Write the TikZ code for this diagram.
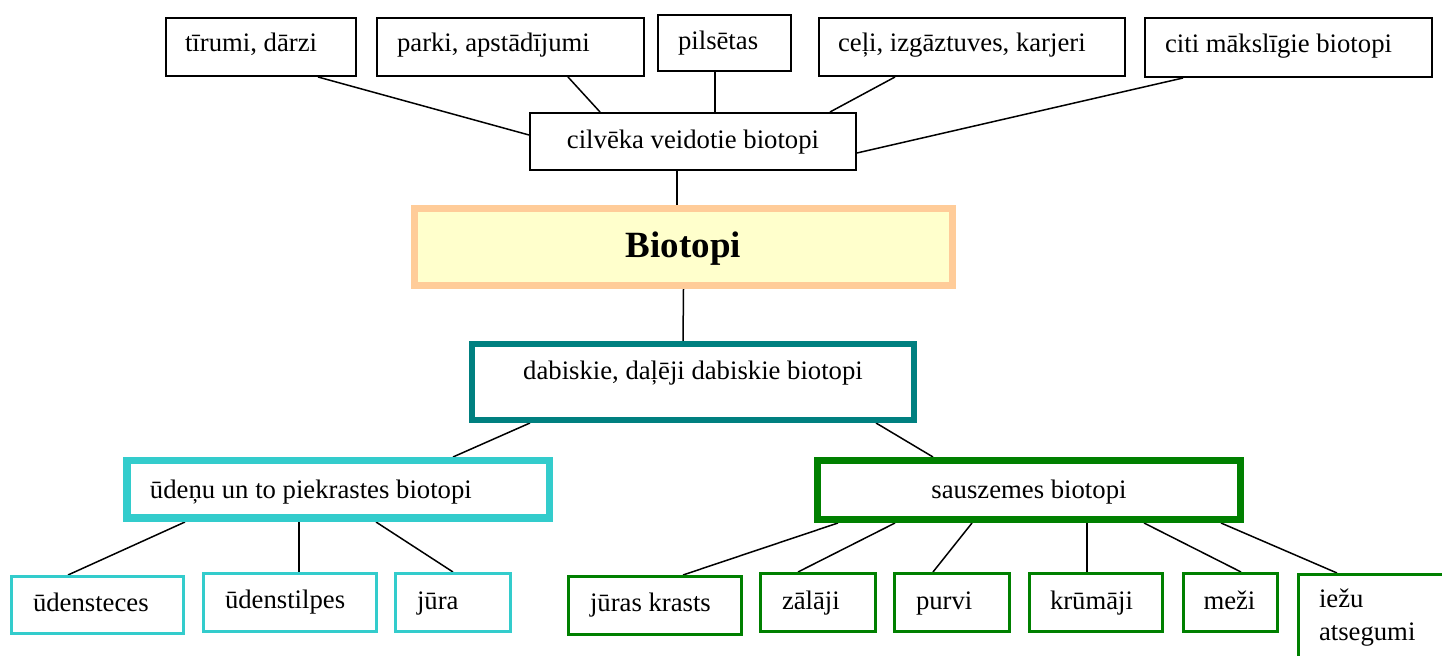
\documentclass[tikz,border=0pt]{standalone}
\usepackage{fontspec}
\setmainfont{Liberation Serif}
\usetikzlibrary{backgrounds}
\definecolor{peach}{HTML}{FFCC99}
\definecolor{lightyel}{HTML}{FFFFCC}
\definecolor{tealc}{HTML}{008080}
\definecolor{cyanc}{HTML}{33CCCC}
\definecolor{greenc}{HTML}{008000}
\newcommand{\lefttext}[2]{\makebox[#1][l]{#2}}
\tikzset{
  box/.style={draw, rectangle, inner sep=0pt, text depth=0pt, font=\fontsize{13.35pt}{16.5pt}\selectfont},
  thin/.style={box, line width=0.85pt},
  kid/.style={box, line width=1.7pt},
  padx/.style={inner xsep=#1},
  conn/.style={line width=0.75pt, black}
}
\begin{document}
\begin{tikzpicture}[x=0.5pt,y=-0.5pt]
\useasboundingbox (0,0) rectangle (1442,656);

% top row
\node[thin, minimum width=95.15pt, minimum height=29.15pt, padx=9.6pt, text height=5pt] (tir) at (261,47) {\lefttext{75.95pt}{tīrumi, dārzi}};
\node[thin, minimum width=133.65pt, minimum height=29.15pt, padx=10.1pt, text height=5pt] (par) at (510.5,47) {\lefttext{113.45pt}{parki, apstādījumi}};
\node[thin, minimum width=66.65pt, minimum height=28.15pt, padx=10.1pt, text height=7pt] (pil) at (724.5,43) {\lefttext{46.45pt}{pilsētas}};
\node[thin, minimum width=153.15pt, minimum height=29.15pt, padx=9.6pt, text height=5pt] (cel) at (972,47) {\lefttext{133.95pt}{ceļi, izgāztuves, karjeri}};
\node[thin, minimum width=143.65pt, minimum height=29.65pt, padx=10.1pt, text height=4.8pt] (cit) at (1288.5,47.5) {\lefttext{123.45pt}{citi mākslīgie biotopi}};

\node[thin, minimum width=163.15pt, minimum height=28.65pt, text height=6.8pt] (cil) at (693,141.5) {cilvēka veidotie biotopi};

% centre
\node[box, draw=peach, fill=lightyel, line width=3.5pt, minimum width=269pt, minimum height=38.5pt, text height=11pt, font=\bfseries\fontsize{18.5pt}{22pt}\selectfont] (bio) at (683.5,247) {Biotopi};

\node[box, draw=tealc, line width=3pt, minimum width=221pt, minimum height=38pt, text height=0pt, text depth=2pt] (dab) at (693,382) {dabiskie, daļēji dabiskie biotopi};

% second level
\node[box, draw=cyanc, line width=3.75pt, minimum width=211.25pt, minimum height=28.75pt, padx=11.6pt, text height=9.5pt] (ude) at (338,489.5) {\lefttext{188.05pt}{ūdeņu un to piekrastes biotopi}};
\node[box, draw=greenc, line width=3.5pt, minimum width=211.5pt, minimum height=29.5pt, text height=9pt] (sau) at (1029,490) {sauszemes biotopi};

% water children
\node[kid, draw=cyanc, minimum width=85.8pt, minimum height=28.3pt, padx=10.65pt, text height=7pt] (ust) at (97.5,605) {\lefttext{64.5pt}{ūdensteces}};
\node[kid, draw=cyanc, minimum width=86.3pt, minimum height=28.8pt, padx=10.65pt, text height=6.5pt] (usp) at (290,602.5) {\lefttext{65pt}{ūdenstilpes}};
\node[kid, draw=cyanc, minimum width=57.3pt, minimum height=28.8pt, padx=10.65pt, text height=7.5pt] (jur) at (453,602.5) {\lefttext{36pt}{jūra}};

% land children
\node[kid, draw=greenc, minimum width=86.3pt, minimum height=28.8pt, padx=10.65pt, text height=6.5pt] (jkr) at (655,605.5) {\lefttext{65pt}{jūras krasts}};
\node[kid, draw=greenc, minimum width=57.3pt, minimum height=28.8pt, padx=10.65pt, text height=7.5pt] (zal) at (818,602.5) {\lefttext{36pt}{zālāji}};
\node[kid, draw=greenc, minimum width=57.3pt, minimum height=28.8pt, padx=10.65pt, text height=7.5pt] (pur) at (952,602.5) {\lefttext{36pt}{purvi}};
\node[kid, draw=greenc, minimum width=66.3pt, minimum height=28.8pt, padx=10.15pt, text height=7.5pt] (kru) at (1096,602.5) {\lefttext{46pt}{krūmāji}};
\node[kid, draw=greenc, minimum width=46.8pt, minimum height=28.8pt, padx=9.9pt, text height=7.5pt] (mez) at (1230.5,602.5) {\lefttext{27pt}{meži}};
\node[kid, draw=greenc, minimum width=89.8pt, minimum height=66.8pt, align=left, text width=69.5pt, padx=10.15pt, text height=0pt, text depth=33.5pt] (iez) at (1388.5,641.5) {iežu\\atsegumi};

% connectors
\begin{scope}[on background layer]
\fill[white] (0,0) rectangle (1442,656);
\draw[conn] ([xshift=28.5pt]tir.south) -- ([yshift=3.25pt]cil.west);
\draw[conn] ([xshift=28.75pt]par.south) -- ([xshift=-46.5pt]cil.north);
\draw[conn] ([xshift=-4.75pt]pil.south) -- ([xshift=11pt]cil.north);
\draw[conn] ([xshift=-38.5pt]cel.south) -- ([xshift=68.5pt]cil.north);
\draw[conn] ([xshift=-52.75pt]cit.south) -- ([yshift=-5.75pt]cil.east);
\draw[conn] ([xshift=-8pt]cil.south) -- ([xshift=-3.25pt]bio.north);
\draw[conn] (bio.south) -- ([xshift=-5pt]dab.north);
\draw[conn] ([xshift=-81.5pt]dab.south) -- ([xshift=57.5pt]ude.north);
\draw[conn] ([xshift=91.5pt]dab.south) -- ([xshift=-48pt]sau.north);
\draw[conn] ([xshift=-76.5pt]ude.south) -- ([xshift=-14.75pt]ust.north);
\draw[conn] ([xshift=-19.5pt]ude.south) -- ([xshift=4.5pt]usp.north);
\draw[conn] ([xshift=19pt]ude.south) -- (jur.north);
\draw[conn] ([xshift=-95.5pt]sau.south) -- ([xshift=14pt]jkr.north);
\draw[conn] ([xshift=-67pt]sau.south) -- ([xshift=-10pt]zal.north);
\draw[conn] ([xshift=-28.5pt]sau.south) -- ([xshift=-9.5pt]pur.north);
\draw[conn] ([xshift=29pt]sau.south) -- ([xshift=-4.5pt]kru.north);
\draw[conn] ([xshift=57.5pt]sau.south) -- ([xshift=5.25pt]mez.north);
\draw[conn] ([xshift=96pt]sau.south) -- ([xshift=-25.75pt]iez.north);
\end{scope}
\end{tikzpicture}
\end{document}
